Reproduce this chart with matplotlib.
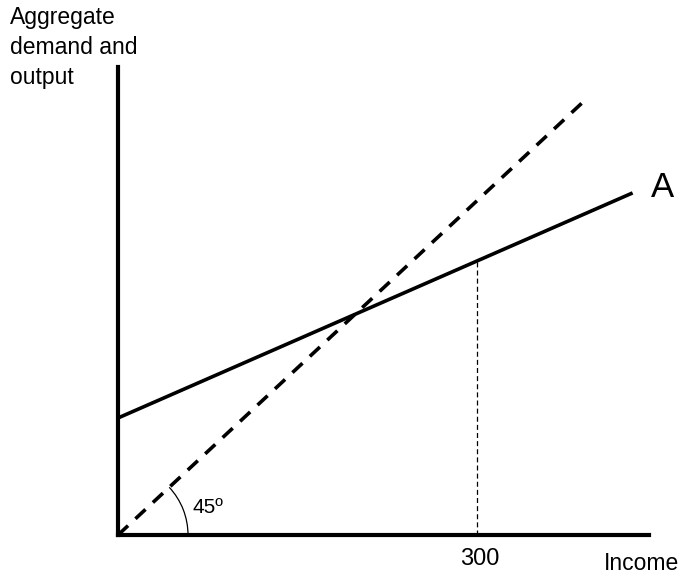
import matplotlib
matplotlib.use("Agg")
import matplotlib.pyplot as plt
from matplotlib.patches import Arc
from matplotlib.transforms import offset_copy

plt.rcParams['font.family'] = ['Liberation Sans', 'DejaVu Sans']

# Data
income_45 = [0, 393]
output_45 = [0, 393]
income_A = [0, 430]
demand_A = [105, 307]
marked_income = 300
demand_at_marked = demand_A[0] + (demand_A[1] - demand_A[0]) / (income_A[1] - income_A[0]) * marked_income

x_label = "Income"
y_label = "Aggregate\ndemand and\noutput"
line_label = "A"
tick_label = "300"
angle_label = "45º"

W, H = 681, 575
fig = plt.figure(figsize=(W / 100, H / 100), dpi=100)
left_px, right_px, top_px, bottom_px = 118, 649, 67, 535
ax = fig.add_axes([left_px / W, (H - bottom_px) / H, (right_px - left_px) / W, (bottom_px - top_px) / H])
ax.set_xlim(0, 443.7)
ax.set_ylim(0, 420)

for s in ['top', 'right']:
    ax.spines[s].set_visible(False)
for s in ['left', 'bottom']:
    ax.spines[s].set_linewidth(3)
    ax.spines[s].set_color('black')
ax.set_xticks([])
ax.set_yticks([])

ax.plot(income_45, output_45, color='black', lw=2.6, linestyle=(0, (3.8, 2.8)), solid_capstyle='butt', dash_capstyle='butt')
ax.plot(income_A, demand_A, color='black', lw=2.6, solid_capstyle='butt')
ax.plot([marked_income, marked_income], [0, demand_at_marked], color='black', lw=0.9, linestyle=(0, (4, 2.5)))

r_px = 70
rx = r_px / (531 / 443.7)
ry = r_px / (468 / 420)
ax.add_patch(Arc((0, 0), 2 * rx, 2 * ry, theta1=0, theta2=45, color='black', lw=0.9))

ax.text(62, 25, angle_label, fontsize=15, ha='left', va='center')
tr300 = offset_copy(ax.transData, fig=fig, x=3, y=0, units='dots')
ax.text(marked_income, -12, tick_label, fontsize=17, ha='center', va='top', clip_on=False, transform=tr300)
ax.text(445, 312, line_label, fontsize=25, ha='left', va='center', clip_on=False)

fig.text(679 / W, 1 - 564 / H, x_label, fontsize=16.5, ha='right', va='center')
fig.text(10 / W, 1 - 6 / H, y_label, fontsize=16.5, ha='left', va='top', linespacing=1.4)

fig.savefig("out.png", dpi=100)
